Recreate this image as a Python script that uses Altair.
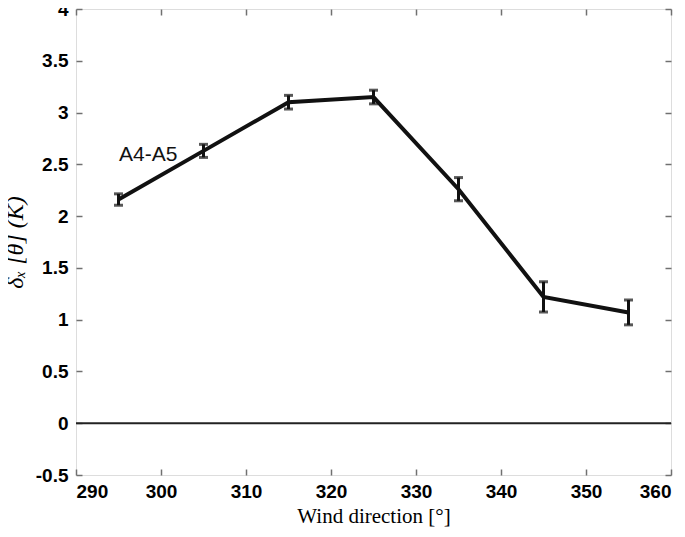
import altair as alt
import pandas as pd

wind_dir = [295, 305, 315, 325, 335, 345, 355]
delta_theta = [2.16, 2.63, 3.10, 3.15, 2.26, 1.22, 1.07]
err = [0.055, 0.063, 0.066, 0.066, 0.112, 0.146, 0.12]
x_ticks = [290, 300, 310, 320, 330, 340, 350, 360]
y_ticks = [-0.5, 0, 0.5, 1, 1.5, 2, 2.5, 3, 3.5, 4]
label_text = ["A4-A5"]
label_x = [298.5]
label_y = [2.59]

df = pd.DataFrame({"x": wind_dir, "y": delta_theta, "e": err})
df["lo"] = df["y"] - df["e"]
df["hi"] = df["y"] + df["e"]
lab = pd.DataFrame({"x": label_x, "y": label_y, "t": label_text})

xs = alt.Scale(domain=[290, 360], nice=False, zero=False)
ys = alt.Scale(domain=[-0.5, 4], nice=False, zero=False)

TICK = "#707070"
common = dict(grid=False, domain=False, tickColor=TICK, tickWidth=1.5, tickSize=6, offset=-6)

x_bottom = alt.Axis(values=x_ticks, orient="bottom", labelFont="Liberation Sans", labelFontWeight="bold",
                    labelFontSize=19, labelColor="black", labelPadding=7, labelExpr="datum.value + ''",
                    title="Wind direction [°]", titleFont="Liberation Serif", titleFontSize=21,
                    titleFontWeight="normal", titleColor="black", titlePadding=4, **common)
y_left = alt.Axis(values=y_ticks, orient="left", labelFont="Liberation Sans", labelFontWeight="bold",
                  labelFontSize=19, labelColor="black", labelPadding=8, labelExpr="datum.value + ''",
                  title="δₓ [θ]   (K)", titleFont="Liberation Serif", titleFontSize=24,
                  titleFontStyle="italic", titleFontWeight="normal", titleColor="black",
                  titlePadding=8, **common)
x_top = alt.Axis(values=x_ticks, orient="top", labels=False, title=None, **common)
y_right = alt.Axis(values=y_ticks, orient="right", labels=False, title=None, **common)

zero = alt.Chart(pd.DataFrame({"z": [0]})).mark_rule(color="#222222", strokeWidth=2).encode(
    y=alt.Y("z:Q", scale=ys, axis=y_left)
)

line = alt.Chart(df).mark_line(color="#111111", strokeWidth=4).encode(
    x=alt.X("x:Q", scale=xs, axis=x_bottom),
    y=alt.Y("y:Q", scale=ys, axis=y_right),
)

bars = alt.Chart(df).mark_rule(color="#111111", strokeWidth=3).encode(
    x=alt.X("x:Q", scale=xs, axis=x_top),
    y=alt.Y("lo:Q", scale=ys, axis=None),
    y2="hi:Q",
)
cap_lo = alt.Chart(df).mark_tick(color="#111111", orient="horizontal", size=9, thickness=3).encode(
    x=alt.X("x:Q", scale=xs, axis=None), y=alt.Y("lo:Q", scale=ys, axis=None)
)
cap_hi = alt.Chart(df).mark_tick(color="#111111", orient="horizontal", size=9, thickness=3).encode(
    x=alt.X("x:Q", scale=xs, axis=None), y=alt.Y("hi:Q", scale=ys, axis=None)
)

text = alt.Chart(lab).mark_text(font="Liberation Sans", fontSize=21, color="#111111").encode(
    x=alt.X("x:Q", scale=xs, axis=None), y=alt.Y("y:Q", scale=ys, axis=None), text="t:N"
)

chart = alt.layer(zero, line, bars, cap_lo, cap_hi, text).properties(
    width=595, height=466,
    autosize=alt.AutoSizeParams(type="none"),
    padding={"left": 68, "top": 1, "right": 6, "bottom": 54},
).configure_view(stroke="#707070", strokeWidth=1.5).configure(background="white")

chart.save("out.html", embed_options={"renderer": "svg", "actions": False})
